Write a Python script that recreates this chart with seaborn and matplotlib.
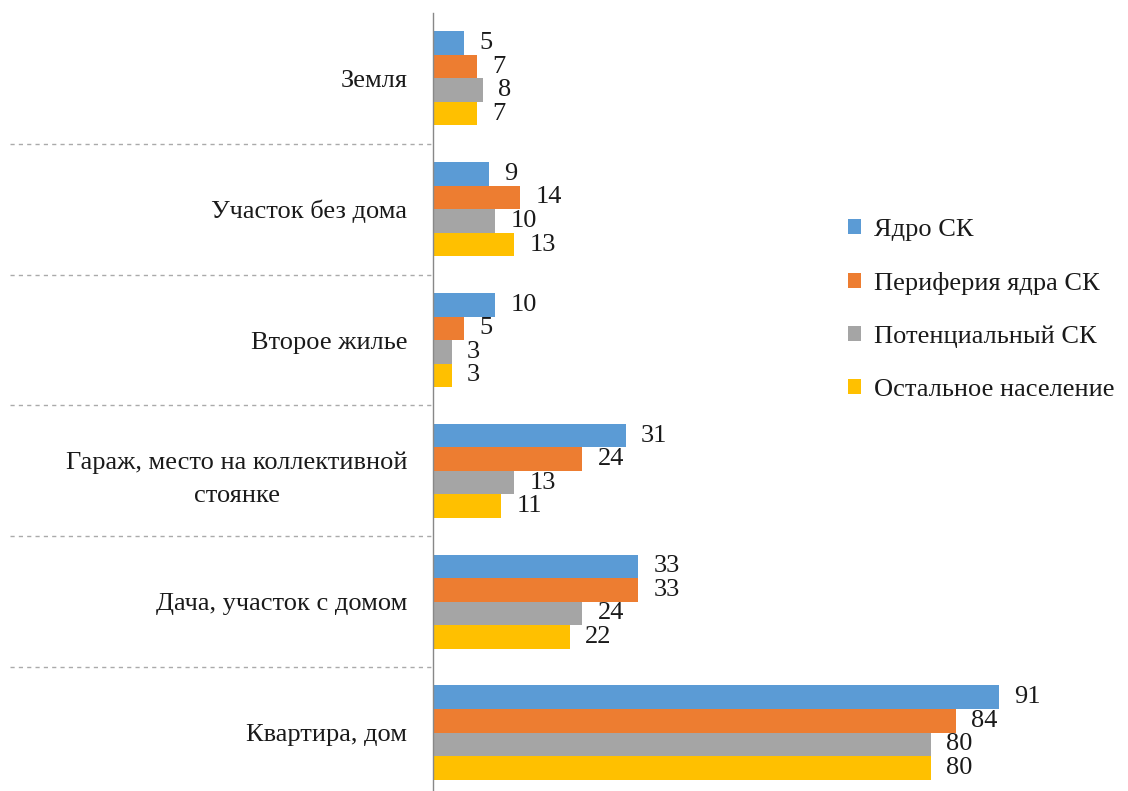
import pandas as pd
import numpy as np
import matplotlib
matplotlib.use("Agg")
import matplotlib.pyplot as plt
import seaborn as sns

# данные
categories = ["Земля", "Участок без дома", "Второе жилье",
              "Гараж, место на коллективной\nстоянке", "Дача, участок с домом", "Квартира, дом"]
series = ["Ядро СК", "Периферия ядра СК", "Потенциальный СК", "Остальное население"]
yadro = [5, 9, 10, 31, 33, 91]
periferiya = [7, 14, 5, 24, 33, 84]
potencial = [8, 10, 3, 13, 24, 80]
ostalnoe = [7, 13, 3, 11, 22, 80]
colors = ["#5B9BD5", "#ED7D31", "#A5A5A5", "#FFC000"]

rows = []
for name, vals in zip(series, [yadro, periferiya, potencial, ostalnoe]):
    for cat, v in zip(categories, vals):
        rows.append({"cat": cat, "group": name, "value": v})
df = pd.DataFrame(rows)

sns.set_style("white")
plt.rcParams['font.family'] = ['Liberation Serif', 'DejaVu Serif']
fs = 19

fig = plt.figure(figsize=(11.28, 7.91), dpi=100)
ax = fig.add_axes([0.3839, -0.0088, 0.616, 0.9924])

sns.barplot(data=df, y="cat", x="value", hue="group", orient="h",
            palette=colors, width=0.72, linewidth=0, saturation=1,
            order=categories, hue_order=series, ax=ax)

for cont in ax.containers:
    ax.bar_label(cont, fmt="%d", padding=11, fontsize=fs, color="#1a1a1a")

ax.set_xlim(0, 111.7)
ax.set_ylim(len(categories) - 0.5, -0.5)
ax.set_xlabel("")
ax.set_ylabel("")
ax.set_xticks([])

# подписи категорий
ax.set_yticks(range(len(categories)))
ax.set_yticklabels(categories, fontsize=fs, color="#1a1a1a",
                   multialignment="center", linespacing=1.65)
ax.tick_params(axis="y", which="major", length=0, pad=18.5)

# засечки и пунктир между категориями
bounds = np.arange(-0.5, len(categories) + 0.5, 1)
ax.set_yticks(bounds, minor=True)
ax.tick_params(axis="y", which="minor", length=6, color="#888888", width=1)
ax.hlines(bounds[1:-1], -0.609, 0, transform=ax.get_yaxis_transform(),
          colors="#aaaaaa", linestyles=(0, (3, 3)), linewidth=1, clip_on=False)

for s in ["top", "right", "bottom"]:
    ax.spines[s].set_visible(False)
ax.spines["left"].set_color("#888888")
ax.spines["left"].set_linewidth(1)

ax.legend(loc="center left", bbox_to_anchor=(0.5815, 0.622), frameon=False,
          fontsize=fs, handlelength=0.5, handleheight=0.5, handletextpad=0.5,
          labelspacing=1.17, borderaxespad=0)
for t in ax.get_legend().get_texts():
    t.set_color("#1a1a1a")

fig.savefig("out.png", dpi=100)
